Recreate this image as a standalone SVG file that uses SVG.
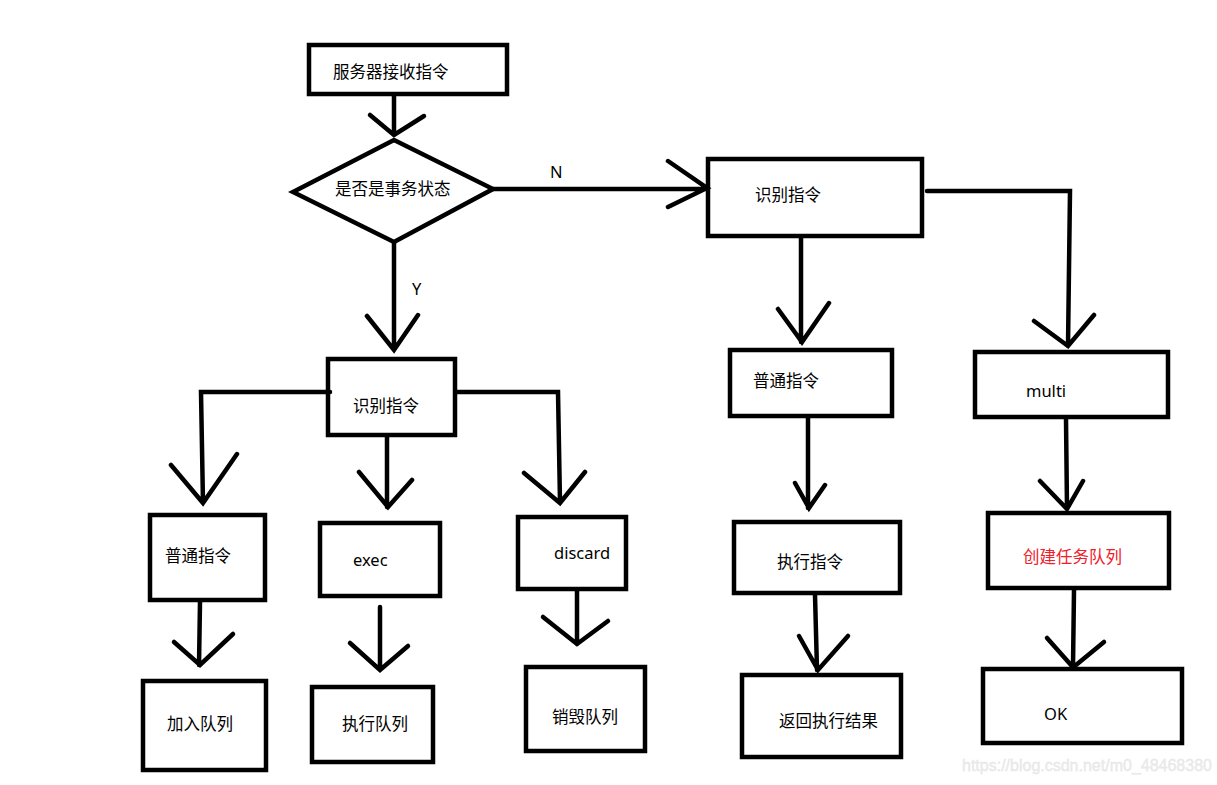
<svg xmlns="http://www.w3.org/2000/svg" width="1217" height="785" viewBox="0 0 1217 785">
<style>
.box{fill:none;stroke:#000;stroke-width:4.5}
.ln{fill:none;stroke:#000;stroke-width:4.5;stroke-linejoin:miter;stroke-linecap:round}
.t{font-family:"Noto Sans CJK SC","Noto Sans",sans-serif;font-size:16.5px;fill:#000}
.lt{font-family:"Noto Sans","Noto Sans CJK SC",sans-serif;font-size:16.5px;fill:#000}
.red{fill:#f0202a}
.wm{font-family:"Liberation Sans",Arial,sans-serif;font-size:16px;fill:#ececec;stroke:#e2e2e2;stroke-width:0.3}
</style>
<rect width="1217" height="785" fill="#fff"/>
<g id="connectors">
<path class="ln" d="M394 96V135M370 115L394 135L424 116"/>
<path class="ln" d="M493 189H707M668 161L707 188L668 207"/>
<path class="ln" d="M394 242V350M367 316L394 350L418 315"/>
<path class="ln" d="M330 392H201L203 503M171 465L203 503L237 454"/>
<path class="ln" d="M387 437V507M359 472L388 507L412 480"/>
<path class="ln" d="M457 392H558L560 502M524 473L560 503L585 472"/>
<path class="ln" d="M200 602L199 665M174 642L200 665L233 634"/>
<path class="ln" d="M380 607V670M350 643L380 670L408 646"/>
<path class="ln" d="M577 591V644M543 617L577 644L608 621"/>
<path class="ln" d="M801 238V342M778 309L802 342L829 303"/>
<path class="ln" d="M927 191H1070L1068 346M1034 321L1068 346L1094 315"/>
<path class="ln" d="M808 418V508M795 483L809 508L825 485"/>
<path class="ln" d="M1066 419L1067 509M1040 481L1067 509L1083 481"/>
<path class="ln" d="M815 595L817 670M799 636L818 670L848 636"/>
<path class="ln" d="M1074 590L1073 666M1047 638L1071 665M1104 642L1076 665"/>
</g>
<g id="n_receive"><rect class="box" x="309" y="45" width="198" height="49"/><text class="t" x="333" y="78">服务器接收指令</text></g>
<g id="n_decision"><polygon class="box" points="293,192 394,140 493,189 394,242"/><text class="t" x="335" y="195">是否是事务状态</text></g>
<g id="lbl_N"><text class="lt" x="550" y="178">N</text></g>
<g id="lbl_Y"><text class="lt" x="412" y="295">Y</text></g>
<g id="n_identify_tx"><rect class="box" x="328" y="359" width="127" height="76"/><text class="t" x="353" y="412">识别指令</text></g>
<g id="n_normal_tx"><rect class="box" x="150" y="515" width="115" height="85"/><text class="t" x="165" y="562">普通指令</text></g>
<g id="n_exec"><rect class="box" x="320" y="523" width="120" height="73"/><text class="lt" x="353" y="566">exec</text></g>
<g id="n_discard"><rect class="box" x="518" y="517" width="108" height="72"/><text class="lt" x="554" y="559">discard</text></g>
<g id="n_enqueue"><rect class="box" x="143" y="681" width="123" height="89"/><text class="t" x="167" y="730">加入队列</text></g>
<g id="n_runqueue"><rect class="box" x="312" y="687" width="121" height="75"/><text class="t" x="342" y="730">执行队列</text></g>
<g id="n_destroy"><rect class="box" x="526" y="667" width="119" height="84"/><text class="t" x="552" y="723">销毁队列</text></g>
<g id="n_identify"><rect class="box" x="708" y="159" width="214" height="77"/><text class="t" x="755" y="201">识别指令</text></g>
<g id="n_normal"><rect class="box" x="730" y="350" width="162" height="66"/><text class="t" x="753" y="387">普通指令</text></g>
<g id="n_execcmd"><rect class="box" x="734" y="522" width="166" height="71"/><text class="t" x="777" y="568">执行指令</text></g>
<g id="n_result"><rect class="box" x="742" y="675" width="159" height="82"/><text class="t" x="779" y="727">返回执行结果</text></g>
<g id="n_multi"><rect class="box" x="975" y="352" width="193" height="65"/><text class="lt" x="1026" y="397">multi</text></g>
<g id="n_create"><rect class="box" x="988" y="513" width="181" height="75"/><text class="t red" x="1023" y="563">创建任务队列</text></g>
<g id="n_ok"><rect class="box" x="983" y="669" width="199" height="74"/><text class="lt" x="1044" y="720">OK</text></g>
<text class="wm" x="962" y="771">https://blog.csdn.net/m0_48468380</text>
</svg>
